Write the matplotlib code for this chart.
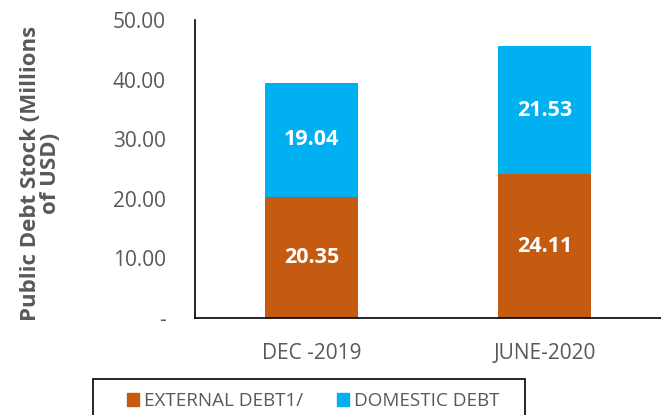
import matplotlib.pyplot as plt
from matplotlib.patches import Patch, Rectangle

# Data
periods = ["DEC -2019", "JUNE-2020"]
external = [20.35, 24.11]
domestic = [19.04, 21.53]
yticks = [0, 10, 20, 30, 40, 50]
ytick_labels = ["-", "10.00", "20.00", "30.00", "40.00", "50.00"]

orange = "#C55A11"
blue = "#00B0F0"
grey = "#595959"

plt.rcParams['font.family'] = ['Open Sans', 'DejaVu Sans']

W, H = 661, 415
fig = plt.figure(figsize=(W / 100, H / 100), dpi=100)
ax = fig.add_axes([195 / W, 1 - 318 / H, 466 / W, 298 / H])

x = list(range(len(periods)))
ax.bar(x, external, width=0.4, color=orange)
ax.bar(x, domestic, width=0.4, bottom=external, color=blue)

# Bar value labels
for i in x:
    ax.text(i, external[i] / 2, f"{external[i]:.2f}", ha="center", va="center",
            color="white", fontsize=15.5, fontweight="bold")
    ax.text(i, external[i] + domestic[i] / 2, f"{domestic[i]:.2f}", ha="center",
            va="center", color="white", fontsize=15.5, fontweight="bold")

ax.set_xlim(-0.5, 1.5)
ax.set_ylim(0, 50)
ax.set_xticks(x)
ax.set_xticklabels(periods)
ax.set_yticks(yticks)
ax.set_yticklabels(ytick_labels)
ax.tick_params(axis="both", length=0, colors=grey, labelsize=15, pad=21)
ax.tick_params(axis="x", pad=18)

for side in ["top", "right"]:
    ax.spines[side].set_visible(False)
for side in ["left", "bottom"]:
    ax.spines[side].set_color("black")
    ax.spines[side].set_linewidth(1.2)

fig.text(0.061, 0.582, "Public Debt Stock (Millions\nof USD)", rotation=90,
         ha="center", va="center", color=grey, fontsize=16, fontweight="bold",
         multialignment="center", linespacing=0.95)

handles = [Patch(color=orange, label="EXTERNAL DEBT1/"),
           Patch(color=blue, label="DOMESTIC DEBT")]
leg = fig.legend(handles=handles, loc="upper left", ncol=2,
                 bbox_to_anchor=(127 / W, 1 - 392 / H), frameon=False,
                 fontsize=13.6, handlelength=0.65, handleheight=0.65,
                 handletextpad=0.25, columnspacing=1.8, borderpad=0,
                 borderaxespad=0)
for t in leg.get_texts():
    t.set_color(grey)

# legend frame (runs past the bottom edge of the figure)
fig.patches.append(Rectangle((93 / W, -0.05), 432 / W, 0.05 + 1 - 379 / H,
                             transform=fig.transFigure, fill=False,
                             edgecolor="black", linewidth=1.2))

plt.savefig("out.png", dpi=100)
